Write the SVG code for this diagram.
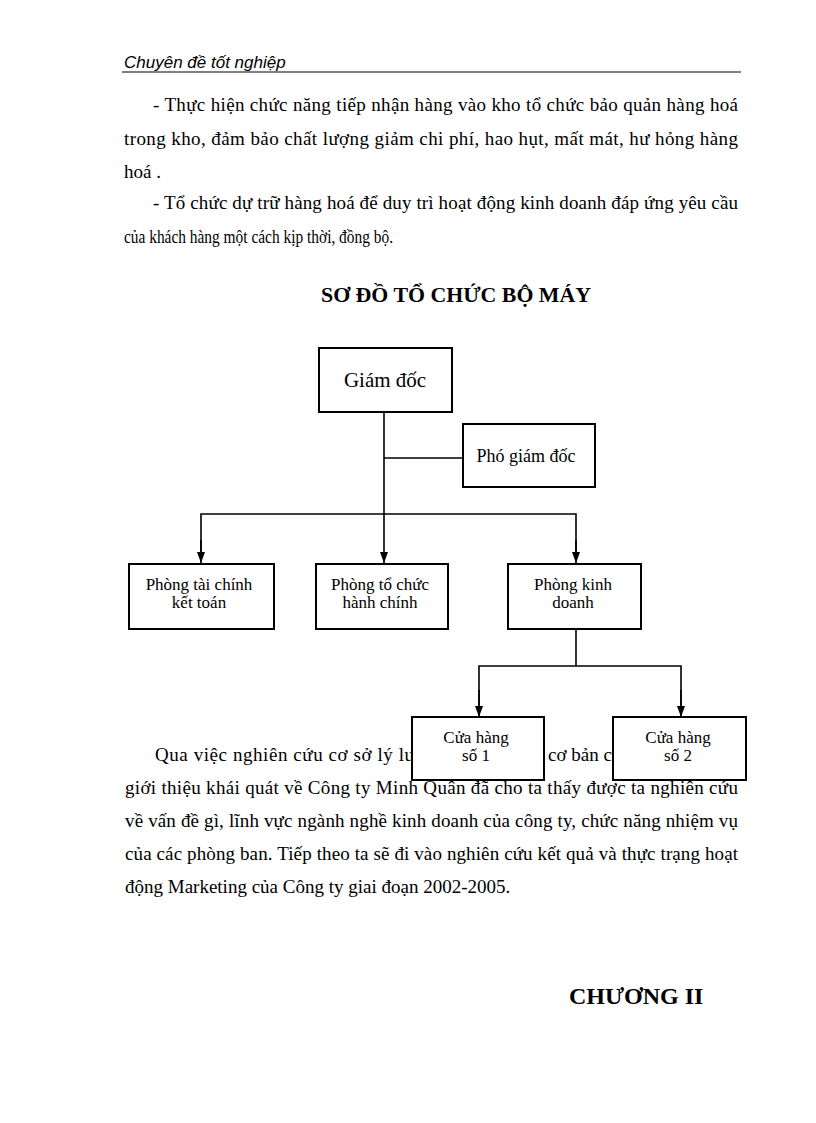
<svg xmlns="http://www.w3.org/2000/svg" width="816" height="1123" viewBox="0 0 816 1123">
<style>
.hdr{font-family:"Liberation Sans",Arial,sans-serif;font-style:italic;font-size:17px;fill:#000}
.body{font-family:"Liberation Serif","Times New Roman",serif;font-size:19px;fill:#000}
.title{font-family:"Liberation Serif","Times New Roman",serif;font-size:22px;font-weight:bold;fill:#000}
.box{fill:#fff;stroke:#000;stroke-width:2}
.lbl{font-family:"Liberation Serif","Times New Roman",serif;font-size:17px;fill:#000;text-anchor:middle}
.ln{fill:none;stroke:#000;stroke-width:1.6}
</style>
<defs>
<marker id="ad" markerWidth="8" markerHeight="11" refX="4" refY="11" orient="0" markerUnits="userSpaceOnUse" viewBox="0 0 8 11">
<path d="M0,0 L8,0 L4,11 Z" fill="#000"/>
</marker>
</defs>
<rect width="816" height="1123" fill="#fff"/>
<g id="page-text">
<text class="hdr" x="124" y="68">Chuyên đề tốt nghiệp</text>
<line x1="122" y1="72" x2="741" y2="72" stroke="#000" stroke-width="1"/>
<text class="body" x="153" y="111" textLength="585" lengthAdjust="spacing">- Thực hiện  chức năng tiếp nhận hàng vào kho tổ chức bảo quản hàng hoá</text>
<text class="body" x="124" y="145" textLength="614" lengthAdjust="spacing">trong kho, đảm bảo chất lượng giảm  chi phí, hao hụt, mất mát, hư hỏng hàng</text>
<text class="body" x="124" y="178">hoá .</text>
<text class="body" x="153" y="209" textLength="585" lengthAdjust="spacing">- Tổ chức dự trữ hàng hoá để duy trì hoạt động kinh  doanh đáp ứng yêu cầu</text>
<text class="body" x="124" y="243" textLength="269" lengthAdjust="spacingAndGlyphs">của khách hàng một cách kịp thời,  đồng bộ.</text>
<text class="title" x="456" y="302" text-anchor="middle" textLength="270" lengthAdjust="spacingAndGlyphs">SƠ ĐỒ TỔ CHỨC BỘ MÁY</text>
<text class="body" x="155" y="761" textLength="259" lengthAdjust="spacing">Qua việc nghiên  cứu cơ sở lý lu</text>
<text class="body" x="548" y="761">cơ bản cu</text>
<text class="body" x="125" y="794" textLength="613" lengthAdjust="spacing">giới  thiệu  khái  quát về  Công ty Minh  Quân đã cho ta thấy được ta nghiên  cứu</text>
<text class="body" x="125" y="827" textLength="613" lengthAdjust="spacing">về vấn đề gì, lĩnh vực ngành nghề kinh  doanh của công ty, chức năng nhiệm  vụ</text>
<text class="body" x="125" y="860" textLength="613" lengthAdjust="spacing">của các phòng ban. Tiếp theo ta sẽ đi vào nghiên  cứu kết quả và thực trạng hoạt</text>
<text class="body" x="125" y="893">động Marketing  của Công ty giai  đoạn 2002-2005.</text>
<text class="title" x="569" y="1004" style="font-size:24px">CHƯƠNG II</text>
</g>
<g id="connectors">
<line class="ln" x1="384" y1="412" x2="384" y2="514"/>
<line class="ln" x1="384" y1="458" x2="463" y2="458"/>
<polyline class="ln" points="201,552 201,514 576,514 576,552"/>
<line class="ln" x1="201" y1="540" x2="201" y2="563" marker-end="url(#ad)"/>
<line class="ln" x1="384" y1="514" x2="384" y2="563" marker-end="url(#ad)"/>
<line class="ln" x1="576" y1="540" x2="576" y2="563" marker-end="url(#ad)"/>
<line class="ln" x1="576" y1="629" x2="576" y2="666"/>
<polyline class="ln" points="479,706 479,666 681,666 681,706"/>
<line class="ln" x1="479" y1="690" x2="479" y2="717" marker-end="url(#ad)"/>
<line class="ln" x1="681" y1="690" x2="681" y2="717" marker-end="url(#ad)"/>
</g>
<g id="giam-doc">
<rect class="box" x="319" y="348" width="133" height="64"/>
<text class="lbl" x="385" y="387" style="font-size:21px">Giám đốc</text>
</g>
<g id="pho-giam-doc">
<rect class="box" x="463" y="424" width="132" height="63"/>
<text class="lbl" x="526" y="462" style="font-size:18px">Phó giám đốc</text>
</g>
<g id="phong-tai-chinh">
<rect class="box" x="129" y="564" width="145" height="65"/>
<text class="lbl" x="199" y="590">Phòng tài chính</text>
<text class="lbl" x="199" y="608">kết toán</text>
</g>
<g id="phong-to-chuc">
<rect class="box" x="316" y="564" width="132" height="65"/>
<text class="lbl" x="380" y="590">Phòng tổ chức</text>
<text class="lbl" x="380" y="608">hành chính</text>
</g>
<g id="phong-kinh-doanh">
<rect class="box" x="508" y="564" width="133" height="65"/>
<text class="lbl" x="573" y="590">Phòng kinh</text>
<text class="lbl" x="573" y="608">doanh</text>
</g>
<g id="cua-hang-1">
<rect class="box" x="412" y="717" width="132" height="63"/>
<text class="lbl" x="476" y="743">Cửa hàng</text>
<text class="lbl" x="476" y="761">số 1</text>
</g>
<g id="cua-hang-2">
<rect class="box" x="613" y="717" width="133" height="63"/>
<text class="lbl" x="678" y="743">Cửa hàng</text>
<text class="lbl" x="678" y="761">số 2</text>
</g>
</svg>
